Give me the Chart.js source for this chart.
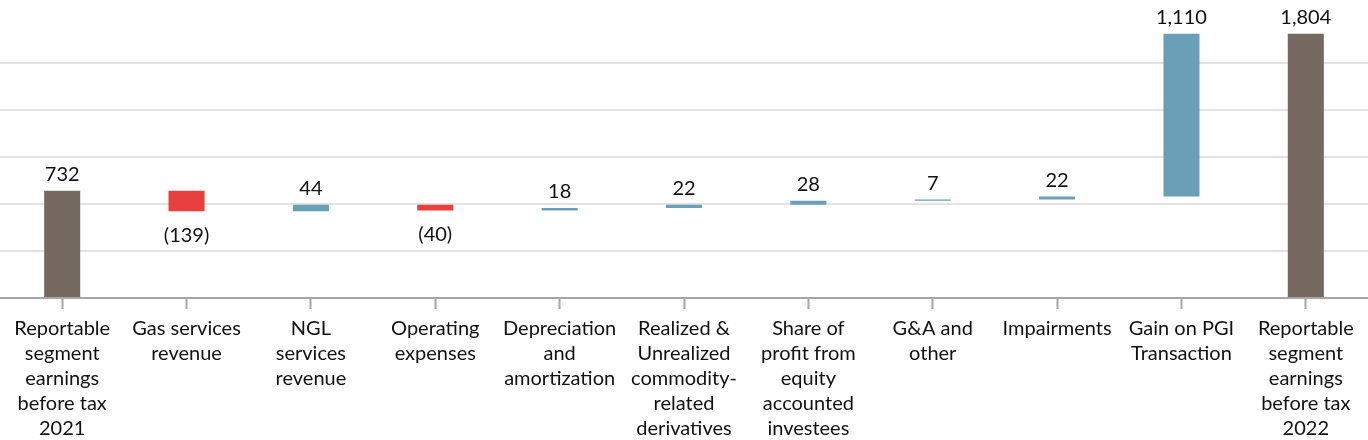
<!DOCTYPE html>
<html>
<head>
<meta charset="utf-8">
<script src="https://cdn.jsdelivr.net/npm/chart.js@4/dist/chart.umd.min.js"></script>
<style>
  html, body { margin: 0; padding: 0; background: #fff; }
  #chart { display: block; }
</style>
</head>
<body>
<canvas id="chart" width="1368" height="440"></canvas>
<script>
// categories (multi-line labels as in the source)
const categories = [
  ['Reportable', 'segment', 'earnings', 'before tax', '2021'],
  ['Gas services', 'revenue'],
  ['NGL', 'services', 'revenue'],
  ['Operating', 'expenses'],
  ['Depreciation', 'and', 'amortization'],
  ['Realized &', 'Unrealized', 'commodity-', 'related', 'derivatives'],
  ['Share of', 'profit from', 'equity', 'accounted', 'investees'],
  ['G&A and', 'other'],
  ['Impairments'],
  ['Gain on PGI', 'Transaction'],
  ['Reportable', 'segment', 'earnings', 'before tax', '2022']
];
const amounts = [732, -139, 44, -40, 18, 22, 28, 7, 22, 1110, 1804];
const isTotal = [true, false, false, false, false, false, false, false, false, false, true];
// hidden value axis
const yMax = 1926;
const yStep = 321;

const GREY = '#766962';
const RED = '#e8403f';
const BLUE = '#6a9fb8';

// build floating ranges for the waterfall
let running = 0;
const ranges = amounts.map((v, i) => {
  if (isTotal[i]) { running = v; return [0, v]; }
  const start = running;
  running += v;
  return [start, running];
});
const colors = amounts.map((v, i) => isTotal[i] ? GREY : (v < 0 ? RED : BLUE));

function fmt(v) {
  const s = Math.abs(v).toLocaleString('en-US');
  return v < 0 ? '(' + s + ')' : s;
}

// data labels above positive bars, below negative ones
const valueLabels = {
  id: 'valueLabels',
  afterDatasetsDraw(chart) {
    const ctx = chart.ctx;
    const y = chart.scales.y;
    const meta = chart.getDatasetMeta(0);
    ctx.save();
    ctx.font = '20px Lato, Carlito, sans-serif';
    ctx.fillStyle = '#111';
    ctx.textAlign = 'center';
    meta.data.forEach((bar, i) => {
      const r = ranges[i];
      const v = amounts[i];
      if (v < 0) {
        ctx.textBaseline = 'top';
        ctx.fillText(fmt(v), bar.x, y.getPixelForValue(Math.min(r[0], r[1])) + 14);
      } else {
        ctx.textBaseline = 'bottom';
        ctx.fillText(fmt(v), bar.x, y.getPixelForValue(Math.max(r[0], r[1])) - 6);
      }
    });
    ctx.restore();
  }
};

Chart.defaults.font.family = 'Lato, Carlito, sans-serif';
Chart.defaults.font.size = 20;
Chart.defaults.color = '#111';

new Chart(document.getElementById('chart'), {
  type: 'bar',
  data: {
    labels: categories,
    datasets: [{
      data: ranges,
      backgroundColor: colors,
      borderWidth: 0,
      barPercentage: 0.29,
      categoryPercentage: 1
    }]
  },
  options: {
    responsive: false,
    animation: false,
    layout: { padding: { top: 16, left: 0, right: 0, bottom: -8 } },
    plugins: {
      legend: { display: false },
      tooltip: { enabled: false }
    },
    scales: {
      x: {
        grid: {
          offset: false,
          drawOnChartArea: false,
          drawTicks: true,
          tickLength: 11,
          tickWidth: 2,
          tickColor: '#a6a6a6'
        },
        border: { display: true, color: '#a6a6a6', width: 2 },
        ticks: {
          maxRotation: 0,
          autoSkip: false,
          padding: 7,
          font: { size: 20, lineHeight: 1.25 },
          color: '#111'
        }
      },
      y: {
        min: 0,
        max: yMax,
        ticks: { display: false, stepSize: yStep },
        // no line along the top edge, as in the source
        grid: {
          color: (c) => (c.tick && c.tick.value >= yMax) ? 'rgba(0,0,0,0)' : '#e3e3e3',
          lineWidth: 2,
          drawTicks: false
        },
        border: { display: false }
      }
    }
  },
  plugins: [valueLabels]
});
</script>
</body>
</html>
